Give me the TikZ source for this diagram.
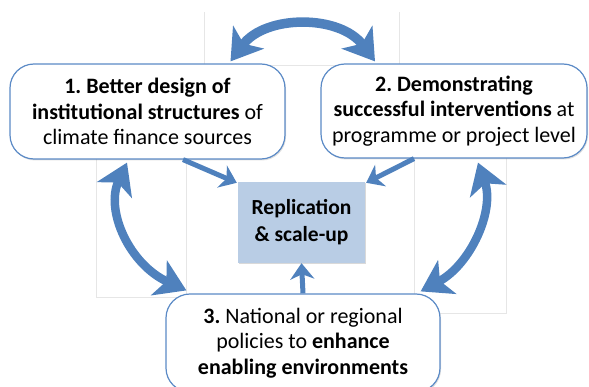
\documentclass[tikz,border=0pt]{standalone}
\usepackage{fontspec}
\setmainfont{Carlito}
\usetikzlibrary{arrows.meta,shadows}
\definecolor{arrowblue}{HTML}{4F81BD}
\definecolor{boxblue}{HTML}{5B8AC6}
\definecolor{centerfill}{HTML}{B9CDE5}
\definecolor{faint}{HTML}{E6E6E6}
\frenchspacing
\tikzset{
  roundbox/.style={draw=boxblue, line width=1.2pt, fill=white, rounded corners=24pt,
    align=center, font=\fontsize{22}{25.5}\selectfont, inner sep=0pt,
    drop shadow={shadow xshift=1pt, shadow yshift=-1.5pt, opacity=0.25}},
  centerbox/.style={fill=centerfill, align=center, font=\fontsize{21.5}{27}\selectfont\bfseries,
    inner sep=0pt, minimum width=127pt, minimum height=81pt,
    drop shadow={shadow xshift=1pt, shadow yshift=-1.5pt, opacity=0.3}},
  bigarrow/.style={draw=arrowblue, line width=8.5pt,
    {Stealth[length=30pt,width=38pt,inset=8pt]}-{Stealth[length=30pt,width=38pt,inset=8pt]}},
  smallarrow/.style={draw=arrowblue, line width=5pt,
    -{Stealth[length=16pt,width=24pt,inset=5pt]}},
  faintframe/.style={draw=faint, line width=0.6pt}
}
\begin{document}
\begin{tikzpicture}[x=1pt,y=-1pt]
\useasboundingbox (0,0) rectangle (589,387);
% faint frames
\draw[faintframe] (204,12) -- (204,65) -- (399,65) -- (399,12);
\draw[faintframe] (96,150) -- (96,297) -- (186,297) -- (186,150);
\draw[faintframe] (414,150) -- (414,313) -- (506,313) -- (506,150);
% boxes
\node[roundbox, minimum width=275pt, minimum height=95pt] (box1) at (147.5,111.5)
  {\textbf{1. Better design of}\\\textbf{institutional structures} of\\climate finance sources};
\node[roundbox, minimum width=266pt, minimum height=94pt] (box2) at (454,111)
  {\textbf{2. Demonstrating}\\\textbf{successful interventions} at\\programme or project level};
\node[roundbox, minimum width=274pt, minimum height=98pt] (box3) at (303,343)
  {\textbf{3.} National or regional\\policies to \textbf{enhance}\\\textbf{enabling environments}};
\node[centerbox] (center) at (301.5,222.5) {Replication\\\& scale-up};
% curved double arrows
\draw[bigarrow, line width=9.5pt] ([xshift=83pt,yshift=2pt]box1.north) .. controls +(35,-47) and +(-35,-47) .. ([xshift=-79pt,yshift=2pt]box2.north);
\draw[bigarrow] ([xshift=-20.5pt,yshift=-3pt]box1.south) .. controls +(-22,48) and +(-57,-26) .. ([xshift=21pt,yshift=3pt]box3.north west);
\draw[bigarrow] ([xshift=24pt,yshift=-4pt]box2.south) .. controls +(17,48) and +(50,-27) .. ([xshift=-20pt,yshift=2pt]box3.north east);
% straight arrows
\draw[smallarrow] ([xshift=35.5pt]box1.south) -- ([xshift=-1pt,yshift=-1pt]center.north west);
\draw[smallarrow] ([xshift=-40pt]box2.south) -- ([xshift=1pt,yshift=-1pt]center.north east);
\draw[smallarrow] (box3.north) -- (center.south);
\end{tikzpicture}
\end{document}
